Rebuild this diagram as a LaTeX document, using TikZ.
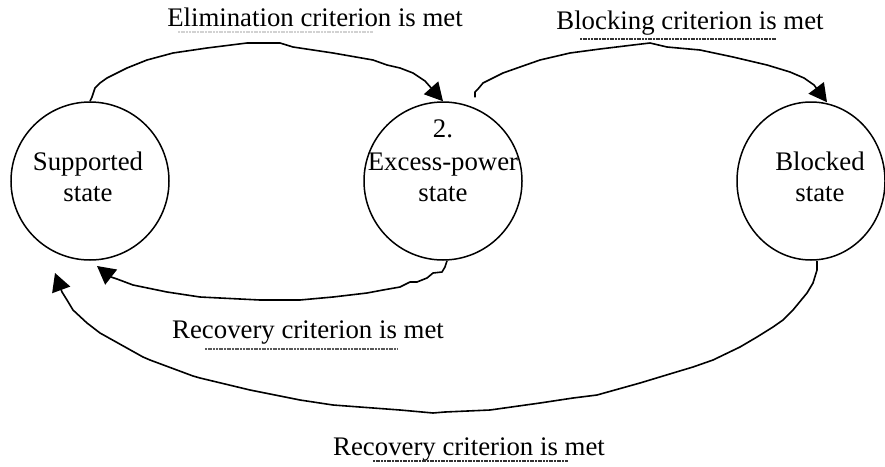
\documentclass[tikz,border=0pt]{standalone}
\usepackage{fontspec}
\setmainfont{Liberation Serif}
\usetikzlibrary{arrows.meta,shapes.geometric,calc}

\tikzset{
  statecircle/.style={draw, line width=1.5pt, circle, minimum size=158pt, inner sep=0pt},
  stateoval/.style={draw, line width=1.5pt, ellipse, minimum width=148pt, minimum height=158pt, inner sep=0pt},
  lbl/.style={font=\fontsize{26.8}{32}\selectfont, inner sep=0pt},
  conn/.style={line width=1.6pt, line join=round, -{Triangle[length=18pt,width=19pt]}},
  squiggle/.style={line width=1.4pt, dash pattern=on 2pt off 0.7pt},
}

\begin{document}
\begin{tikzpicture}[x=1pt,y=-1pt]
  \useasboundingbox (0,0) rectangle (885,466);

  % states
  \node[statecircle] (sup) at (90,181) {};
  \node[statecircle] (exc) at (443,181) {};
  \node[stateoval]   (blk) at (811,181) {};

  \node[lbl, anchor=base] (supA) at (88,170) {Supported};
  \node[lbl, anchor=base] (supB) at (88,201) {state};
  \node[lbl, anchor=base] (excA) at (443,137) {2.};
  \node[lbl, anchor=base] (excB) at (443,170) {Excess-power};
  \node[lbl, anchor=base] (excC) at (443,201) {state};
  \node[lbl, anchor=base] (blkA) at (820,170) {Blocked};
  \node[lbl, anchor=base] (blkB) at (820,201) {state};

  % transition labels
  \node[lbl, anchor=base] (elim) at (315,26) {Elimination criterion is met};
  \node[lbl, anchor=base] (blck) at (690,29) {Blocking criterion is met};
  \node[lbl, anchor=base] (rec1) at (308,338) {Recovery criterion is met};
  \node[lbl, anchor=base] (rec2) at (469,455) {Recovery criterion is met};

  % proofing marks under the labels
  \draw[squiggle, gray!35] (178,32) -- (373,32);
  \draw[squiggle, black!80] (580,39) -- (777,39);
  \draw[squiggle, black!65] (205,349) -- (398,349);
  \draw[squiggle, black!80] (373,461) -- (568,461);

  % supported -> excess-power
  \draw[conn] (sup.north) -- (92,97) -- (95,88) -- (100,83) -- (107,78) -- (113,75)
    -- (127,68) -- (147,60) -- (173,53) -- (207,48) -- (247,43) -- (280,43)
    -- (293,47) -- (333,53) -- (373,60) -- (387,65) -- (400,68) -- (413,73)
    -- (425,81) -- (exc.north);

  % excess-power -> blocked
  \draw[conn] ($(exc.north)+(32,-4)$) -- (475,92) -- (478,89) -- (483,83) -- (493,78)
    -- (503,73) -- (520,67) -- (540,60) -- (570,53) -- (600,49) -- (633,45)
    -- (650,43) -- (667,47) -- (700,50) -- (733,57) -- (767,65) -- (790,72)
    -- (804,78) -- (814,85) -- ($(blk.north)+(16,1)$);

  % excess-power -> supported
  \draw[conn] ($(exc.south)+(4,0)$) -- (445,267) -- (442,272) -- (433,273) -- (427,278)
    -- (417,282) -- (410,282) -- (400,287) -- (383,290) -- (367,293) -- (333,297)
    -- (300,300) -- (260,300) -- (200,297) -- (167,292) -- (133,285) -- (117,279)
    -- (111,277) -- ($(sup.center)+(7,85)$);

  % blocked -> supported
  \draw[conn] ($(blk.south)+(6,0)$) -- (817,270) -- (813,283) -- (807,293) -- (793,310)
    -- (783,320) -- (773,327) -- (757,337) -- (740,347) -- (713,360) -- (693,367)
    -- (673,373) -- (640,383) -- (597,395) -- (573,398) -- (540,403) -- (490,410)
    -- (445,412) -- (433,413) -- (400,410) -- (333,405) -- (300,400) -- (250,390)
    -- (200,378) -- (193,376) -- (150,360) -- (143,357) -- (100,333) -- (87,323)
    -- (73,310) -- (67,300) -- (62,292) -- ($(sup.center)+(-35,92)$);
\end{tikzpicture}
\end{document}
